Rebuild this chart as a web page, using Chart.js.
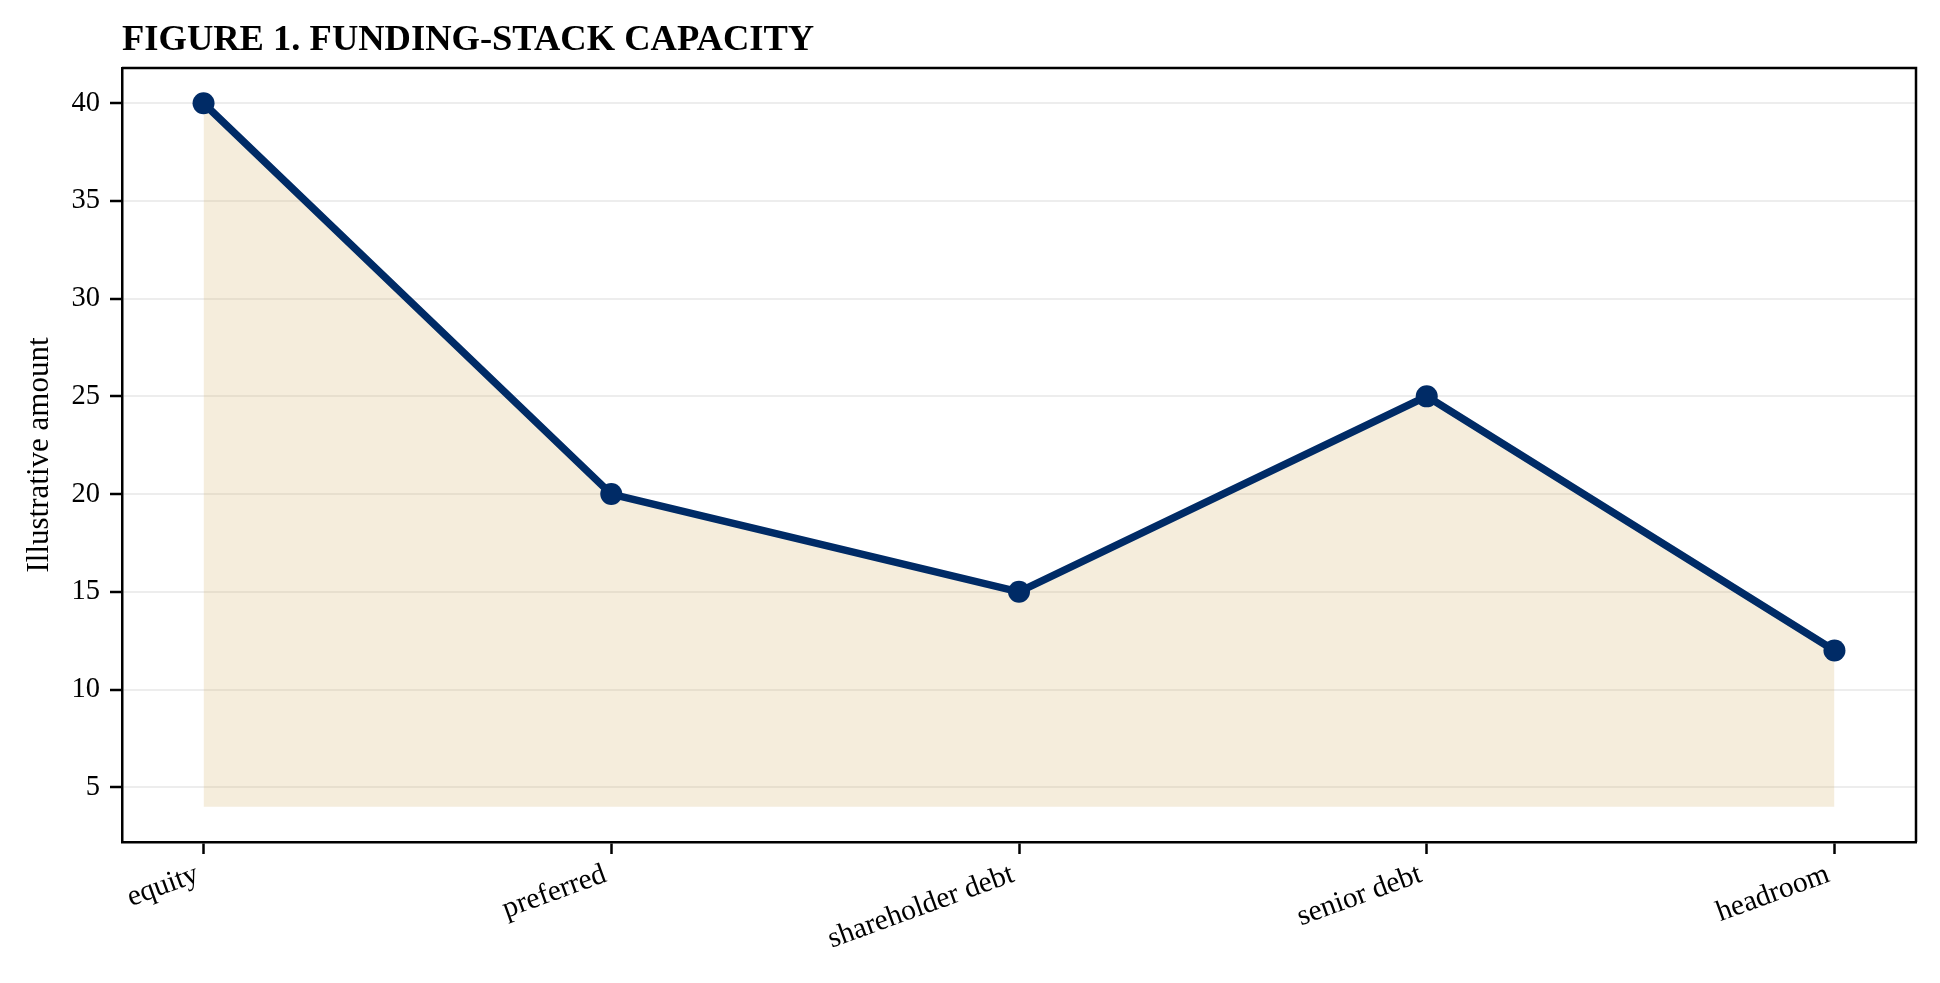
<!DOCTYPE html>
<html>
<head>
<meta charset="utf-8">
<script src="https://cdn.jsdelivr.net/npm/chart.js@4.4.1/dist/chart.umd.min.js"></script>
<style>
  html, body { margin: 0; padding: 0; background: #ffffff; }
  canvas { display: block; }
</style>
</head>
<body>
<canvas id="myChart" width="1940" height="983"></canvas>
<script>
const categories = ['equity', 'preferred', 'shareholder debt', 'senior debt', 'headroom'];
const amounts = [40, 20, 15, 25, 12];
const fillBase = 4;
const yTicks = [5, 10, 15, 20, 25, 30, 35, 40];
const titleText = 'FIGURE 1. FUNDING-STACK CAPACITY';

const serif = '"Liberation Serif", "Times New Roman", serif';
const navy = '#002b66';

// title sits at the plot's left edge, like the reference
const titlePlugin = {
    id: 'leftTitle',
    afterDraw(chart) {
        const c = chart.ctx;
        c.save();
        c.font = 'bold 36.5px ' + serif;
        c.fillStyle = '#000';
        c.textAlign = 'left';
        c.textBaseline = 'alphabetic';
        c.fillText(titleText, chart.chartArea.left, 50);
        c.restore();
    }
};

// close the box: top and right spines
const spinesPlugin = {
    id: 'spines',
    afterDraw(chart) {
        const a = chart.chartArea;
        const c = chart.ctx;
        c.save();
        c.strokeStyle = '#000';
        c.lineWidth = 2.5;
        c.beginPath();
        c.moveTo(a.left, a.top);
        c.lineTo(a.right, a.top);
        c.lineTo(a.right, a.bottom);
        c.stroke();
        c.restore();
    }
};

const ctx = document.getElementById('myChart').getContext('2d');
const myChart = new Chart(ctx, {
    type: 'line',
    data: {
        datasets: [{
            label: 'amount',
            data: amounts.map((v, i) => ({ x: i, y: v })),
            borderColor: navy,
            borderWidth: 7.5,
            backgroundColor: 'rgba(204, 163, 82, 0.2)',
            fill: { value: fillBase },
            pointRadius: 11,
            pointHoverRadius: 11,
            pointBackgroundColor: navy,
            pointBorderWidth: 0,
            tension: 0
        }]
    },
    plugins: [titlePlugin, spinesPlugin],
    options: {
        responsive: false,
        animation: false,
        devicePixelRatio: 1,
        layout: { padding: { top: 68, right: 24, left: 0, bottom: 0 } },
        plugins: {
            legend: { display: false },
            tooltip: { enabled: false },
            title: { display: false }
        },
        scales: {
            x: {
                type: 'linear',
                min: -0.2,
                max: 4.2,
                afterBuildTicks: (scale) => {
                    scale.ticks = categories.map((c, i) => ({ value: i }));
                },
                afterFit: (scale) => { scale.height = 141; },
                ticks: {
                    autoSkip: false,
                    minRotation: 20,
                    maxRotation: 20,
                    padding: 3,
                    labelOffset: -6,
                    color: '#000',
                    font: { family: serif, size: 29.5 },
                    callback: (value) => categories[value]
                },
                grid: {
                    drawOnChartArea: false,
                    drawTicks: true,
                    tickLength: 12,
                    tickWidth: 2.5,
                    tickColor: '#000'
                },
                border: { display: true, color: '#000', width: 2.5 }
            },
            y: {
                type: 'linear',
                min: 2.2,
                max: 41.8,
                afterBuildTicks: (scale) => {
                    scale.ticks = yTicks.map(v => ({ value: v }));
                },
                afterFit: (scale) => { scale.width = 122; },
                ticks: {
                    padding: 10,
                    color: '#000',
                    font: { family: serif, size: 28.5 }
                },
                title: {
                    display: true,
                    text: 'Illustrative amount',
                    color: '#000',
                    font: { family: serif, size: 31 },
                    padding: { top: 21, bottom: 0 }
                },
                grid: {
                    color: 'rgba(0, 0, 0, 0.07)',
                    lineWidth: 2,
                    drawTicks: true,
                    tickLength: 12,
                    tickWidth: 2.5,
                    tickColor: '#000'
                },
                border: { display: true, color: '#000', width: 2.5 }
            }
        }
    }
});
</script>
</body>
</html>
